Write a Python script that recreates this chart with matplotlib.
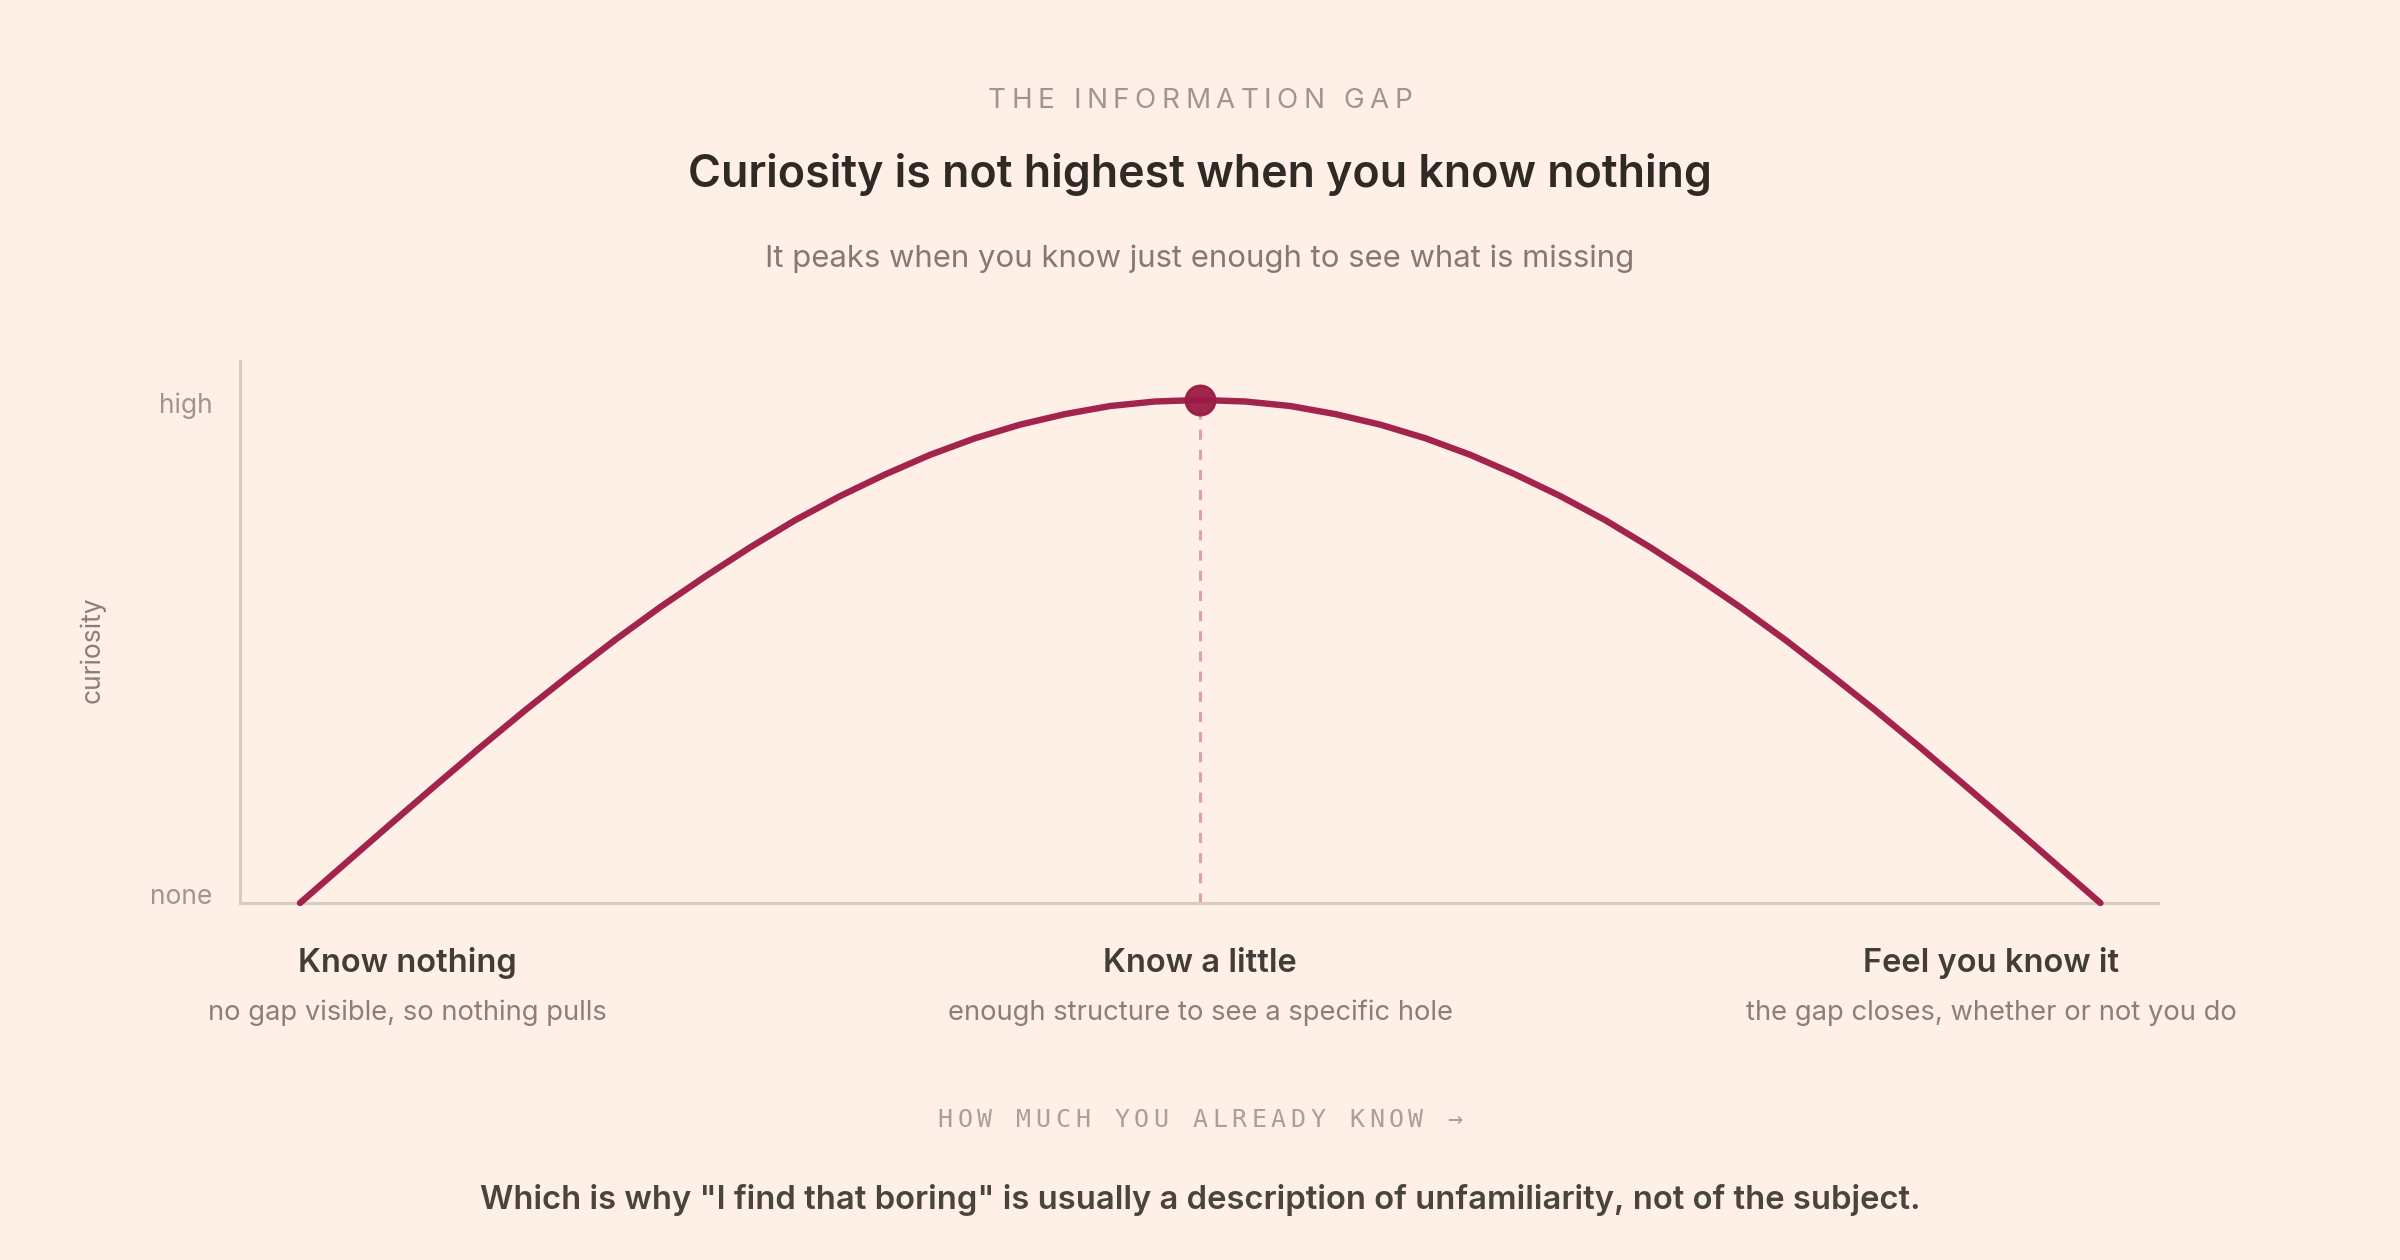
import matplotlib
matplotlib.use('Agg')
import matplotlib.pyplot as plt
from matplotlib.transforms import ScaledTranslation

# 读图得到的曲线 (知识量 0-100, 好奇心 0-100)
knowledge = [0, 2.5, 5, 7.5, 10, 12.5, 15, 17.5, 20, 22.5, 25, 27.5, 30, 32.5, 35, 37.5, 40,
             42.5, 45, 47.5, 50, 52.5, 55, 57.5, 60, 62.5, 65, 67.5, 70, 72.5, 75, 77.5, 80,
             82.5, 85, 87.5, 90, 92.5, 95, 97.5, 100]
curiosity = [0, 7.8, 15.6, 23.3, 30.9, 38.3, 45.4, 52.3, 58.8, 64.9, 70.7, 76.1, 80.9, 85.2,
             89.1, 92.4, 95.1, 97.2, 98.8, 99.7, 100, 99.7, 98.8, 97.2, 95.1, 92.4, 89.1, 85.2,
             80.9, 76.1, 70.7, 64.9, 58.8, 52.3, 45.4, 38.3, 30.9, 23.3, 15.6, 7.8, 0]
peak_x = 50
peak_y = 100

ytick_vals = [0, 100]
ytick_labels = ['none', 'high']

cat_titles = ['Know nothing', 'Know a little', 'Feel you know it']
cat_notes = ['no gap visible, so nothing pulls',
             'enough structure to see a specific hole',
             'the gap closes, whether or not you do']
cat_pos = [0.1696, 0.5, 0.8296]

kicker = 'THE INFORMATION GAP'
title = 'Curiosity is not highest when you know nothing'
subtitle = 'It peaks when you know just enough to see what is missing'
xlab = 'HOW MUCH YOU ALREADY KNOW \u2192'
ylab = 'curiosity'
footer = 'Which is why "I find that boring" is usually a description of unfamiliarity, not of the subject.'

BG = '#FEF0E6'
LINE = '#A2234B'
DOT = '#9B1B44'
AXIS = '#D8CBC0'

plt.rcParams['font.family'] = ['Inter', 'DejaVu Sans']

fig = plt.figure(figsize=(12, 6.3), dpi=200, facecolor=BG)
ax = fig.add_axes([0.1, 0.2833, 0.7992, 0.4302])
ax.set_facecolor(BG)

ax.plot(knowledge, curiosity, color=LINE, lw=2.3, solid_capstyle='round',
        solid_joinstyle='round', clip_on=False, zorder=3)
ax.plot([peak_x, peak_x], [0, peak_y], color='#D98B9E', lw=1.1,
        linestyle=(0, (3.3, 3.3)), alpha=0.8, zorder=2)
ax.plot([peak_x], [peak_y], 'o', color=DOT, ms=10.5, alpha=0.95, zorder=4, clip_on=False)

ax.set_xlim(-3.33, 103.2)
ax.set_ylim(0, 107.75)
ax.set_xticks([])
ax.set_yticks(ytick_vals)
ax.set_yticklabels(ytick_labels, color='#A0968E', fontsize=9.5)
ax.tick_params(axis='y', length=0, pad=10)
# 微调刻度文字的垂直位置
for lab, dy in zip(ax.get_yticklabels(), [0.045, -0.012]):
    lab.set_transform(lab.get_transform() + ScaledTranslation(0, dy, fig.dpi_scale_trans))
for s in ['top', 'right']:
    ax.spines[s].set_visible(False)
for s in ['left', 'bottom']:
    ax.spines[s].set_color(AXIS)
    ax.spines[s].set_linewidth(1.1)

renderer = fig.canvas.get_renderer()


def text_w(s, **kw):
    t = fig.text(0, 0, s, **kw)
    w = t.get_window_extent(renderer).width
    t.remove()
    return w


def spaced(x, y, s, track, **kw):
    # 逐字放置, 模拟字距
    base = text_w('||', **kw)
    ws = [text_w('|' + ch + '|', **kw) - base for ch in s]
    total = sum(ws) + track * (len(s) - 1)
    px = x * 2400 - total / 2
    for ch, w in zip(s, ws):
        fig.text(px / 2400, y, ch, ha='left', va='center', **kw)
        px += w + track


spaced(0.5, 0.9198, kicker, 5.5, fontsize=10, color='#A0968E')
fig.text(0.5, 0.8615, title, ha='center', va='center', fontsize=16.1,
         fontweight='semibold', color='#2F2A26')
fig.text(0.5, 0.7945, subtitle, ha='center', va='center', fontsize=11.2, color='#857A72')
fig.text(0.0383, 0.484, ylab, rotation=90, ha='center', va='center', fontsize=9.5,
         color='#8A807A')

for xp, t, n in zip(cat_pos, cat_titles, cat_notes):
    fig.text(xp, 0.2357, t, ha='center', va='center', fontsize=11.75,
             fontweight='semibold', color='#433D39')
    fig.text(xp, 0.196, n, ha='center', va='center', fontsize=9.85, color='#8A807A')

spaced(0.5, 0.111, xlab, 4.6, fontsize=9, color='#AAA098', family='DejaVu Sans Mono')
fig.text(0.5, 0.048, footer, ha='center', va='center', fontsize=11.8,
         fontweight='semibold', color='#4A443F')

fig.savefig('out.png', dpi=200, facecolor=BG)
